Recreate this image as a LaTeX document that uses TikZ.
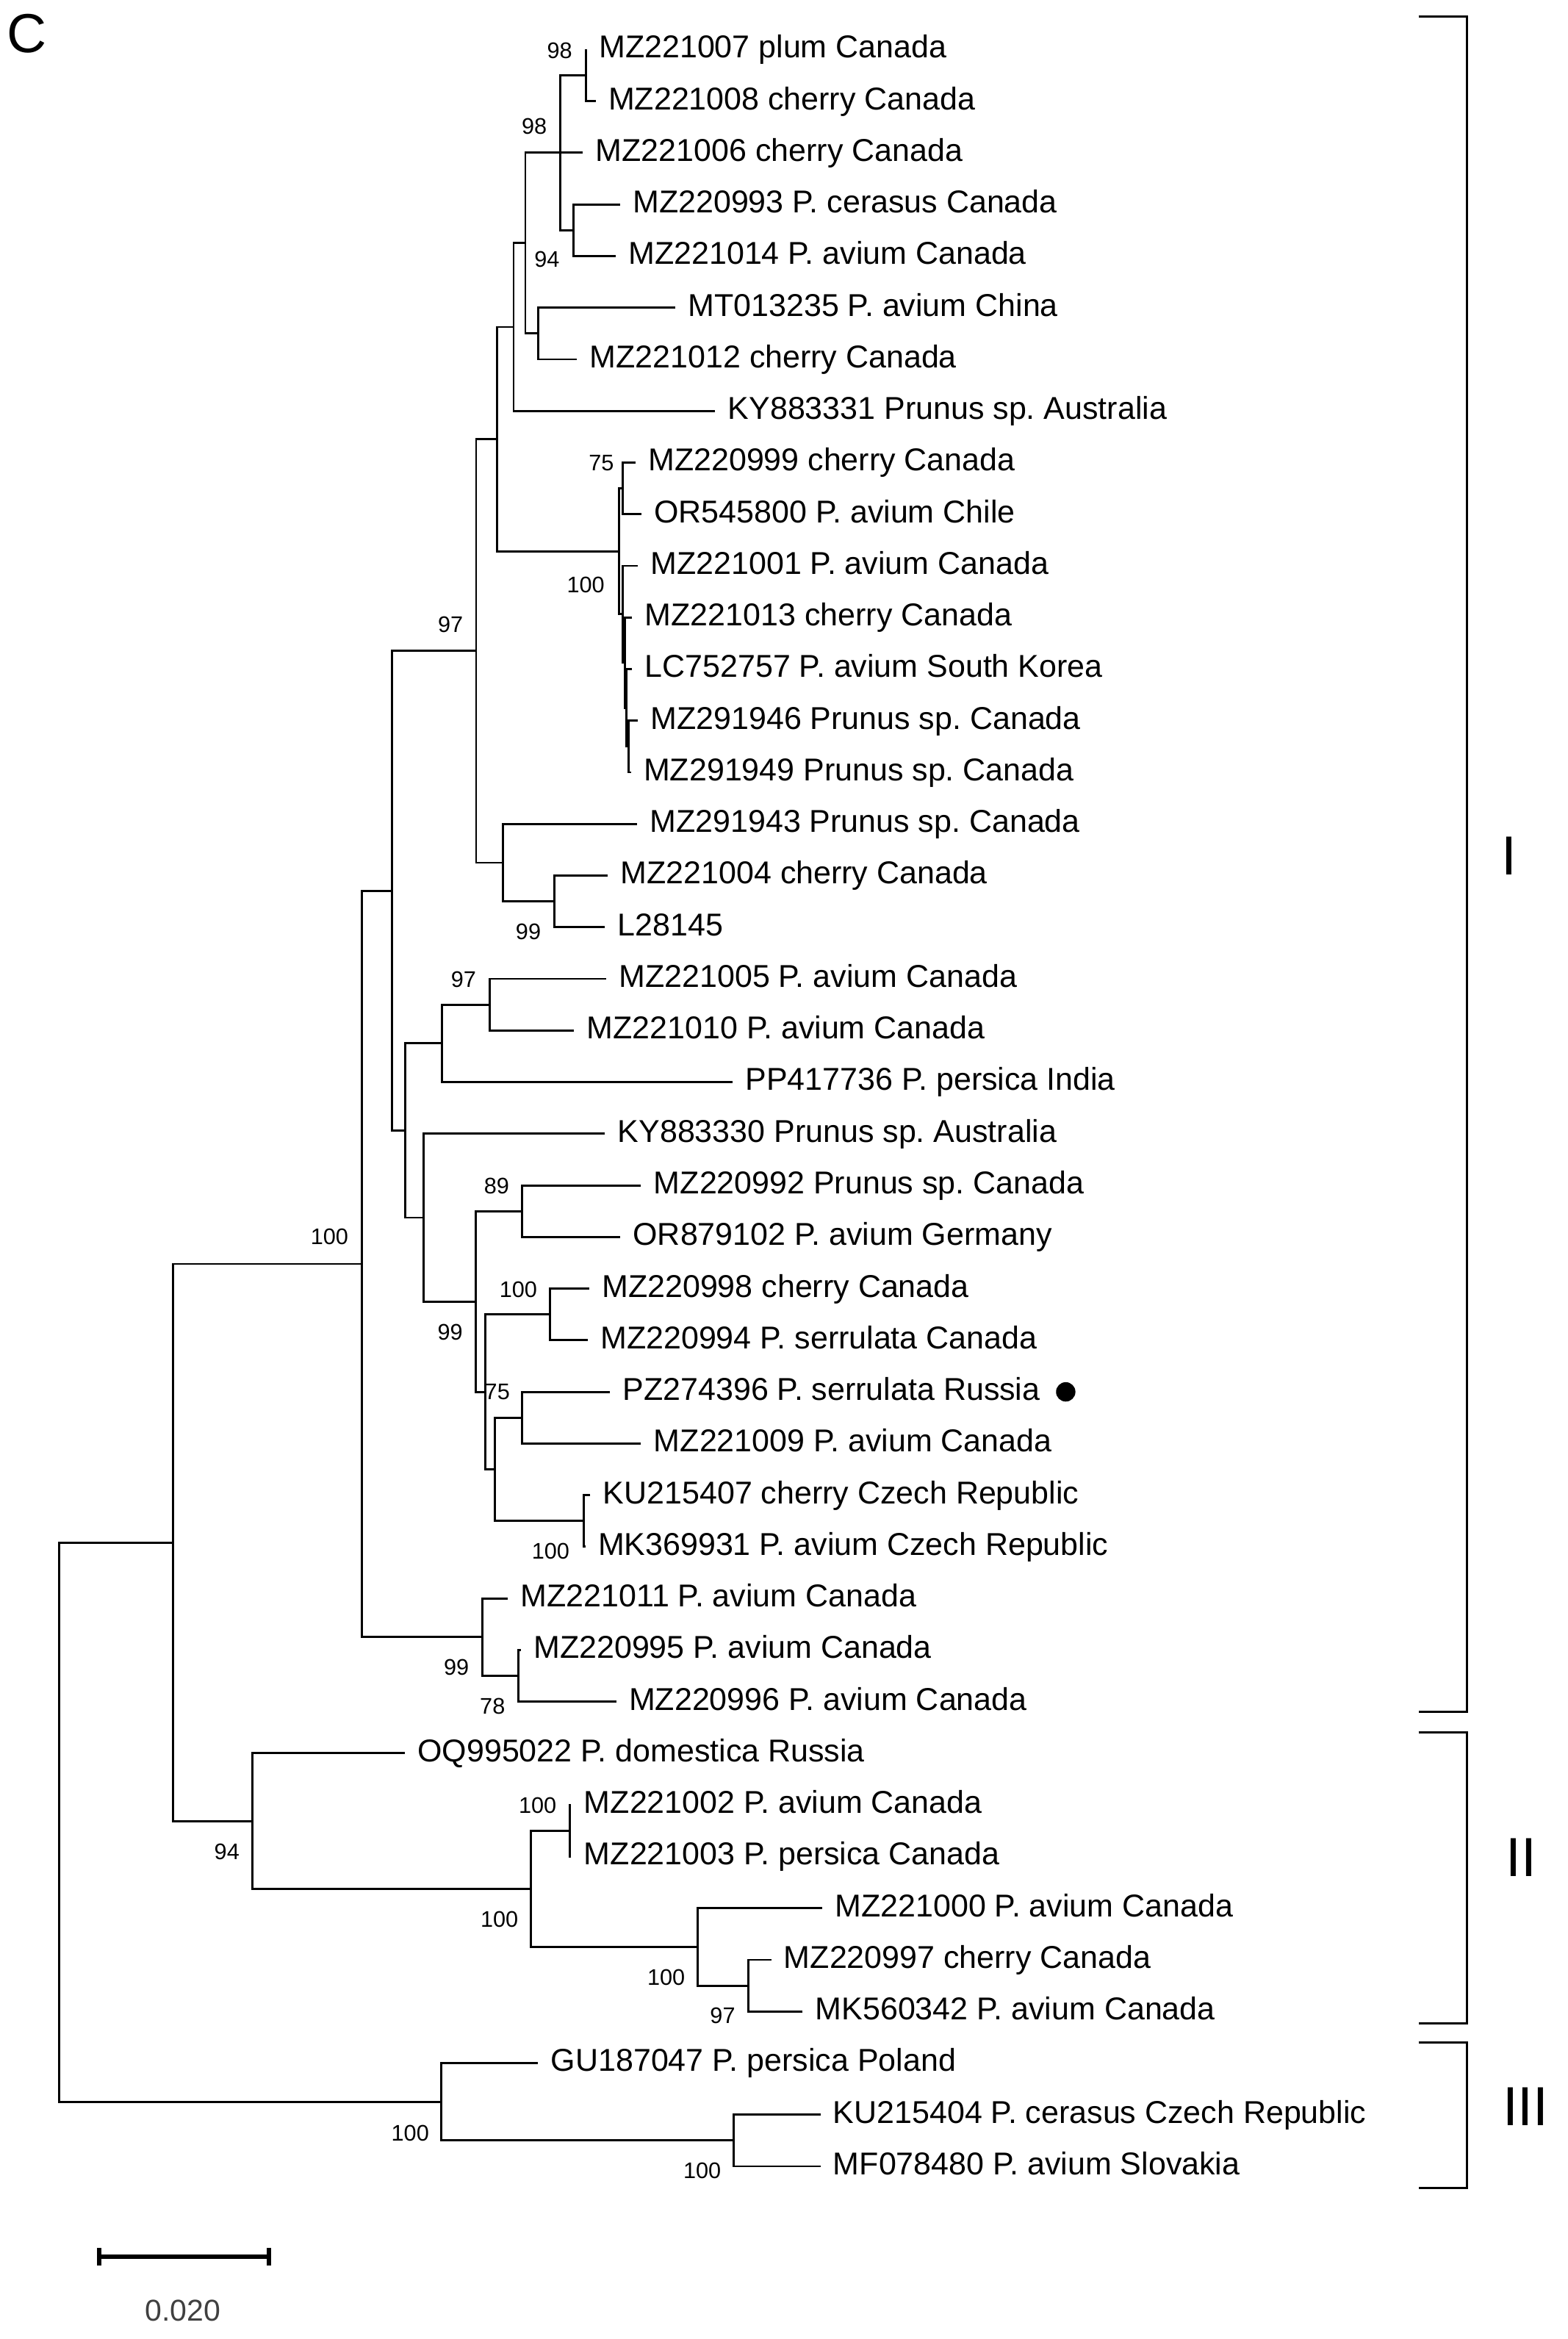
\documentclass[tikz,border=0pt]{standalone}
\usepackage{fontspec}
\setmainfont{Liberation Sans}
\usetikzlibrary{arrows.meta}
\frenchspacing

\begin{document}
\begin{tikzpicture}[x=0.02cm,y=-0.02cm,
  branch/.style={line width=0.8pt},
  leaf/.style={anchor=west,inner xsep=4.7pt,inner ysep=0pt,text height=6.4pt,text depth=0pt,font=\fontsize{12.05}{13}\selectfont},
  boot/.style={inner sep=0pt,font=\fontsize{8.6}{10}\selectfont},
  clade/.style={inner sep=0pt,font=\fontsize{21}{24}\selectfont},
  markdot/.style={circle,fill=black,inner sep=0pt,minimum size=0.26cm}]
\useasboundingbox (0,0) rectangle (1051,1568);
\node[clade] (panel) at (18,22.5) {C};
\foreach \id/\tip/\row/\txt in {
 MZ221007/393/1/{plum Canada},
 MZ221008/399.3/2/{cherry Canada},
 MZ221006/390.8/3/{cherry Canada},
 MZ220993/415.7/4/{P. cerasus Canada},
 MZ221014/412.8/5/{P. avium Canada},
 MT013235/452.8/6/{P. avium China},
 MZ221012/386.8/7/{cherry Canada},
 KY883331/479.5/8/{Prunus sp. Australia},
 MZ220999/426/9/{cherry Canada},
 OR545800/430/10/{P. avium Chile},
 MZ221001/427.6/11/{P. avium Canada},
 MZ221013/423.8/12/{cherry Canada},
 LC752757/423.8/13/{P. avium South Korea},
 MZ291946/427.6/14/{Prunus sp. Canada},
 MZ291949/423/15/{Prunus sp. Canada},
 MZ291943/427.1/16/{Prunus sp. Canada},
 MZ221004/407.5/17/{cherry Canada},
 L28145/405.6/18/{},
 MZ221005/406.4/19/{P. avium Canada},
 MZ221010/384.9/20/{P. avium Canada},
 PP417736/491.2/21/{P. persica India},
 KY883330/405.6/22/{Prunus sp. Australia},
 MZ220992/429.8/23/{Prunus sp. Canada},
 OR879102/415.8/24/{P. avium Germany},
 MZ220998/395/25/{cherry Canada},
 MZ220994/394/26/{P. serrulata Canada},
 PZ274396/409/27/{P. serrulata Russia},
 MZ221009/429.8/28/{P. avium Canada},
 KU215407/395.8/29/{cherry Czech Republic},
 MK369931/392.4/30/{P. avium Czech Republic},
 MZ221011/340.5/31/{P. avium Canada},
 MZ220995/349.2/32/{P. avium Canada},
 MZ220996/413.1/33/{P. avium Canada},
 OQ995022/271.4/34/{P. domestica Russia},
 MZ221002/383/35/{P. avium Canada},
 MZ221003/383/36/{P. persica Canada},
 MZ221000/551.3/37/{P. avium Canada},
 MZ220997/517/38/{cherry Canada},
 MK560342/538.1/39/{P. avium Canada},
 GU187047/360.8/40/{P. persica Poland},
 KU215404/550/41/{P. cerasus Czech Republic},
 MF078480/550/42/{P. avium Slovakia}}{
 \node[leaf] (\id) at (\tip,{33.2+34.61*(\row-1)}) {\id\ \txt};
}
\foreach \n/\x/\y in {
 a1/393/50.5, a3/384.6/154.34, a2/375.7/102.42, a4/361/223.56,
 a5/352.2/162.99, a6/344.3/219.23,
 b1/417.5/327.39, b4/421.3/500.44, b3/420/474.48, b2/419/444.2,
 b5/417.5/411.75, b6/415/369.57, a7/333.3/294.4,
 c1/371.7/604.27, c2/337.4/578.31, a8/319.2/436.36,
 d1/328.3/673.49, d2/296.3/699.45,
 e1/349.8/811.93, e2/368.7/881.15, e3/349.8/950.37, e4/391.3/1019.59,
 e5/331.7/984.98, e6/325.3/933.07, e7/318.9/872.5, e8/283.8/816.26,
 d3/271.8/757.86, a9/262.8/597.11,
 f1/347.4/1123.42, f2/323.2/1097.46, a10/242.5/847.29,
 g1/382/1227.25, g2/501.6/1331.08, g3/467.7/1305.12, g4/356.1/1266.19,
 g5/169.4/1220.76, a11/115.8/1034.03,
 h1/491.9/1434.91, h2/295.7/1408.95, root/39.8/1221.49}{
 \coordinate (\n) at (\x,\y);
}
\foreach \c/\p in {
 MZ221007.west/a1, MZ221008.west/a1,
 a1/a2, MZ221006.west/a2, a3/a2,
 MZ220993.west/a3, MZ221014.west/a3,
 MT013235.west/a4, MZ221012.west/a4,
 a2/a5, a4/a5, a5/a6, KY883331.west/a6,
 MZ220999.west/b1, OR545800.west/b1,
 MZ291946.west/b4, MZ291949.west/b4,
 LC752757.west/b3, b4/b3,
 MZ221013.west/b2, b3/b2,
 MZ221001.west/b5, b2/b5,
 b1/b6, b5/b6, a6/a7, b6/a7,
 MZ221004.west/c1, L28145.west/c1,
 MZ291943.west/c2, c1/c2,
 a7/a8, c2/a8,
 MZ221005.west/d1, MZ221010.west/d1,
 d1/d2, PP417736.west/d2,
 MZ220992.west/e1, OR879102.west/e1,
 MZ220998.west/e2, MZ220994.west/e2,
 PZ274396.west/e3, MZ221009.west/e3,
 KU215407.west/e4, MK369931.west/e4,
 e3/e5, e4/e5, e2/e6, e5/e6, e1/e7, e6/e7,
 KY883330.west/e8, e7/e8,
 d2/d3, e8/d3, a8/a9, d3/a9,
 MZ220995.west/f1, MZ220996.west/f1,
 MZ221011.west/f2, f1/f2,
 a9/a10, f2/a10,
 MZ221002.west/g1, MZ221003.west/g1,
 MZ220997.west/g2, MK560342.west/g2,
 MZ221000.west/g3, g2/g3,
 g1/g4, g3/g4,
 OQ995022.west/g5, g4/g5,
 a10/a11, g5/a11,
 KU215404.west/h1, MF078480.west/h1,
 GU187047.west/h2, h1/h2,
 a11/root, h2/root}{
 \draw[branch] (\c) -| (\p);
}
\foreach \n/\x/\y/\v in {
 a1/375.2/34.2/98, a2/358.2/84.8/98, a3/366.7/174.1/94,
 b1/403.2/310.3/75, b6/392.7/392.1/100, a8/302/418.5/97,
 c1/354.2/624.5/99, d1/310.8/656.6/97, e1/333/795.2/89,
 a10/220.9/829.2/100, e2/347.5/864.4/100, e6/301.8/892.9/99,
 e5/333.4/933/75, e4/369.2/1039.8/100, f2/306/1117.7/99,
 f1/330.2/1144/78, g1/360.4/1210.5/100, g5/152.1/1241.2/94,
 g4/334.8/1286.5/100, g3/446.6/1325.8/100, g2/484.5/1351/97,
 h2/275/1429.8/100, h1/470.8/1455/100}{
 \node[boot] (bs-\n) at (\x,\y) {\v};
}
\node[markdot] (rsmark) at (714.5,933.06) {};
\foreach \top/\bot/\name/\lx/\ly in {
 11.2/1147.7/I/1012/574,
 1161.5/1356.3/II/1020/1245,
 1369.3/1466.7/III/1022.8/1412}{
 \draw[branch] (951,\top) -- (983.5,\top) -- (983.5,\bot) -- (951,\bot);
 \node[clade] (cl-\name) at (\lx,\ly) {\name};
}
\coordinate (sbL) at (64.9,1512.8);
\coordinate (sbR) at (182,1512.8);
\draw[line width=1.8pt,{Bar[width=6.8pt]}-{Bar[width=6.8pt]}] (sbL) -- (sbR);
\node[inner sep=0pt,text=black!75,font=\fontsize{11.5}{13}\selectfont] (sbtext) at (122.7,1549) {0.020};
\end{tikzpicture}
\end{document}
